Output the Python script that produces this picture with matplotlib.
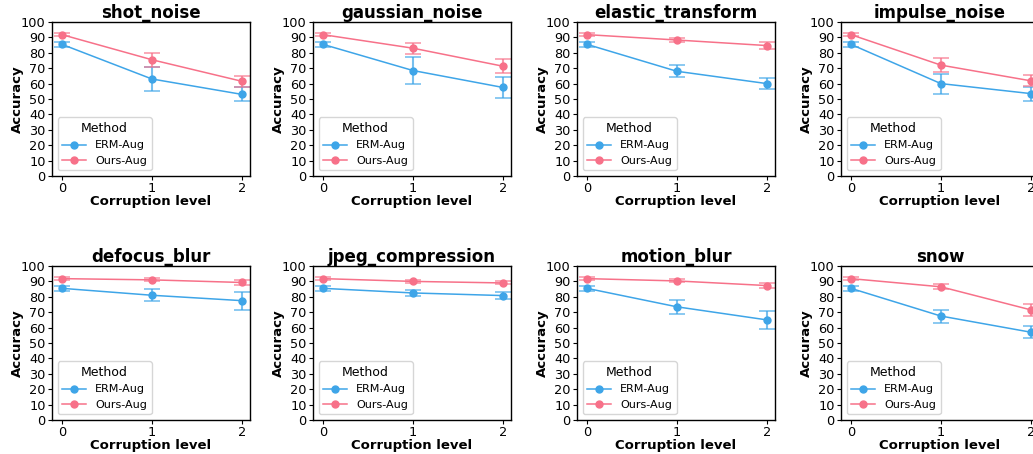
import numpy as np
import matplotlib
matplotlib.use("Agg")
import matplotlib.pyplot as plt

# ---------------- data ----------------
levels = [0, 1, 2]
corruptions = ["shot_noise", "gaussian_noise", "elastic_transform", "impulse_noise",
               "defocus_blur", "jpeg_compression", "motion_blur", "snow"]

erm_mean = {
    "shot_noise":        [85.5, 63.0, 53.0],
    "gaussian_noise":    [85.5, 68.5, 57.5],
    "elastic_transform": [85.5, 68.0, 60.0],
    "impulse_noise":     [85.5, 60.0, 53.5],
    "defocus_blur":      [85.5, 81.0, 77.5],
    "jpeg_compression":  [85.5, 82.5, 80.8],
    "motion_blur":       [85.5, 73.5, 65.0],
    "snow":              [85.5, 67.5, 57.0],
}
erm_err = {
    "shot_noise":        [1.5, 8.0, 4.5],
    "gaussian_noise":    [1.5, 8.5, 7.0],
    "elastic_transform": [1.5, 3.8, 3.5],
    "impulse_noise":     [1.5, 6.5, 4.5],
    "defocus_blur":      [1.5, 4.0, 5.8],
    "jpeg_compression":  [1.5, 2.0, 2.5],
    "motion_blur":       [1.5, 4.5, 6.0],
    "snow":              [1.5, 4.2, 3.8],
}
ours_mean = {
    "shot_noise":        [91.8, 75.5, 61.5],
    "gaussian_noise":    [91.8, 83.0, 71.3],
    "elastic_transform": [91.8, 88.3, 84.7],
    "impulse_noise":     [91.8, 72.0, 61.8],
    "defocus_blur":      [91.8, 91.0, 89.3],
    "jpeg_compression":  [91.8, 90.0, 89.0],
    "motion_blur":       [91.8, 90.3, 87.3],
    "snow":              [91.8, 86.5, 71.5],
}
ours_err = {
    "shot_noise":        [1.0, 4.5, 3.5],
    "gaussian_noise":    [1.0, 3.5, 4.5],
    "elastic_transform": [1.0, 1.3, 2.0],
    "impulse_noise":     [1.0, 4.5, 3.5],
    "defocus_blur":      [1.0, 1.0, 1.5],
    "jpeg_compression":  [1.0, 1.0, 1.0],
    "motion_blur":       [1.0, 1.0, 1.8],
    "snow":              [1.0, 1.5, 4.0],
}

ERM_COLOR = "#3ea5e8"
OURS_COLOR = "#f77189"

W, H = 1033, 454
fig = plt.figure(figsize=(W / 100, H / 100), dpi=100)

# axes layout in pixels (rightmost column runs past the edge, as in the original crop)
ax_w, ax_h = 198, 154
lefts = [52, 313, 577, 841]
tops = [22, 266]

for i, name in enumerate(corruptions):
    r, c = divmod(i, 4)
    left = lefts[c]
    top = tops[r]
    ax = fig.add_axes([left / W, 1 - (top + ax_h) / H, ax_w / W, ax_h / H])

    for mean, err, col, lab in [(erm_mean[name], erm_err[name], ERM_COLOR, "ERM-Aug"),
                                (ours_mean[name], ours_err[name], OURS_COLOR, "Ours-Aug")]:
        ax.plot(levels, mean, color=col, marker="o", markersize=5, linewidth=1.1, label=lab)
        ax.errorbar(levels, mean, yerr=err, fmt="none", ecolor=col, alpha=0.7,
                    elinewidth=1.5, capsize=5.5, capthick=1.2)

    ax.set_xlim(-0.11, 2.09)
    ax.set_ylim(0, 100)
    ax.set_xticks(levels)
    ax.set_yticks(np.arange(0, 101, 10))
    ax.tick_params(labelsize=9.3, length=3, pad=1.5)
    ax.set_title(name, fontsize=12, fontweight="bold", pad=3)
    ax.set_xlabel("Corruption level", fontsize=9.5, fontweight="bold")
    ax.set_ylabel("Accuracy", fontsize=9.5, fontweight="bold")
    ax.xaxis.set_label_coords(0.5, -0.125)
    ax.yaxis.set_label_coords(-0.14, 0.5)
    for sp in ax.spines.values():
        sp.set_color("black")
        sp.set_linewidth(1.0)
    ax.legend(title="Method", loc="lower left", fontsize=8, title_fontsize=9,
              borderaxespad=0.5, labelspacing=0.5, handlelength=2.2, framealpha=0.8)

fig.savefig("out.png", dpi=100)
